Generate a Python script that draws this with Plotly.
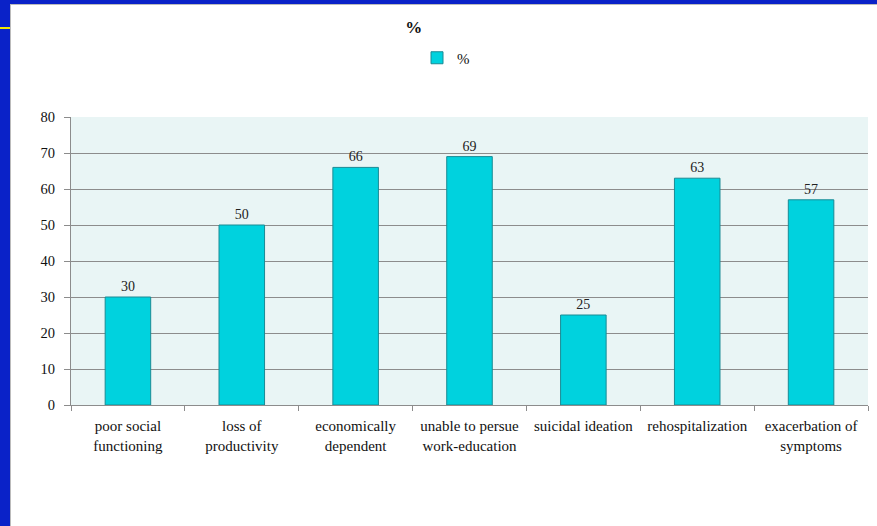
import plotly.graph_objects as go

categories = ["poor social<br>functioning", "loss of<br>productivity", "economically<br>dependent",
              "unable to persue<br>work-education", "suicidal ideation", "rehospitalization",
              "exacerbation of<br>symptoms"]
values = [30, 50, 66, 69, 25, 63, 57]
series_name = "%"
y_ticks = [0, 10, 20, 30, 40, 50, 60, 70, 80]

W, H = 877, 526
L, R, T, B = 71, 9, 117, 121
pw, ph = W - L - R, H - T - B

def px(x):
    return (x - L) / pw

def py(y):
    return (H - B - y) / ph

font_family = "Liberation Serif, DejaVu Serif, serif"

fig = go.Figure()
fig.add_trace(go.Bar(
    x=categories, y=values, name=series_name,
    marker=dict(color="#00D2DE", line=dict(color="#1A8A94", width=1)),
    width=0.4,
    text=[str(v) for v in values], textposition="outside",
    textfont=dict(size=14, color="#222"),
    cliponaxis=False,
    showlegend=True,
))

shapes = [
    dict(type="rect", xref="paper", yref="paper", x0=px(0), x1=px(10), y0=py(H), y1=py(0),
         fillcolor="#0A22C8", line=dict(width=0), layer="above"),
    dict(type="rect", xref="paper", yref="paper", x0=px(0), x1=px(W), y0=py(4), y1=py(0),
         fillcolor="#0A22C8", line=dict(width=0), layer="above"),
    dict(type="line", xref="paper", yref="paper", x0=px(10.5), x1=px(10.5), y0=py(H), y1=py(4),
         line=dict(color="#BBBBBB", width=1), layer="above"),
    dict(type="line", xref="paper", yref="paper", x0=px(10.5), x1=px(W), y0=py(4.5), y1=py(4.5),
         line=dict(color="#BBBBBB", width=1), layer="above"),
    dict(type="line", xref="paper", yref="paper", x0=px(0), x1=px(10), y0=py(28), y1=py(28),
         line=dict(color="#F2E600", width=2), layer="above"),
]

fig.update_layout(
    width=W, height=H,
    margin=dict(l=L, r=R, t=T, b=B),
    paper_bgcolor="white",
    plot_bgcolor="#E9F5F5",
    font=dict(family=font_family, size=15.5, color="#111"),
    title=dict(text="<b>%</b>", x=px(447), xanchor="center", y=1 - 27 / H, yanchor="middle",
               font=dict(size=17, color="#111", family="Liberation Serif")),
    legend=dict(orientation="h", x=px(446), xanchor="center", y=py(58), yanchor="middle",
                font=dict(size=15), itemwidth=30, bgcolor="rgba(0,0,0,0)"),
    shapes=shapes,
    bargap=0.6,
)
fig.update_xaxes(
    showline=True, linecolor="#8C8C8C", linewidth=1,
    ticks="outside", tickson="boundaries", ticklen=5, tickcolor="#8C8C8C",
    tickfont=dict(size=15, color="#111"), showgrid=False,
    ticklabelstandoff=7,
)
fig.update_yaxes(
    range=[0, 80], tickvals=y_ticks, ticktext=[str(t) for t in y_ticks],
    showline=True, linecolor="#8C8C8C", linewidth=1,
    ticks="outside", ticklen=6, tickcolor="#8C8C8C",
    showgrid=True, gridcolor="#8C8C8C", gridwidth=1,
    tickfont=dict(size=14.5, color="#111"), zeroline=False,
    ticklabelstandoff=6,
)

fig.write_html("out.html")
